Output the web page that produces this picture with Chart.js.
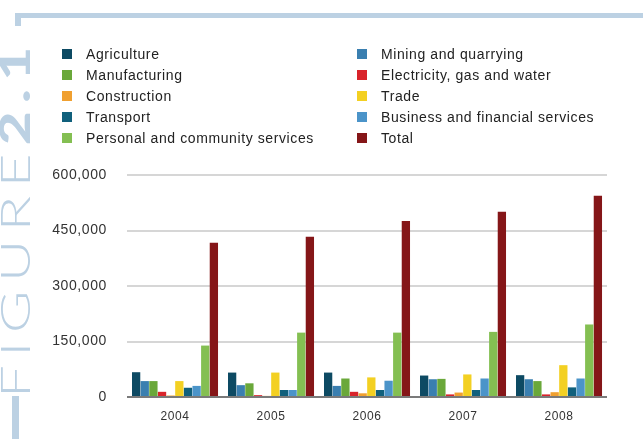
<!DOCTYPE html>
<html>
<head>
<meta charset="utf-8">
<script src="https://cdn.jsdelivr.net/npm/chart.js@4"></script>
<style>
  html, body { margin: 0; padding: 0; background: #fff; }
  #wrap { position: relative; width: 643px; height: 439px; overflow: hidden; font-family: "Liberation Sans", Arial, sans-serif; }
  #chart { position: absolute; left: 0; top: 0; }
  .line { position: absolute; background: #bcd1e3; }
  #fig { position: absolute; left: -7px; top: 398px; transform-origin: 0 0; white-space: nowrap;
         font-family: Lato, "Open Sans", sans-serif; font-weight: 300; font-size: 42px; line-height: 42px;
         color: #bcd1e3; letter-spacing: 6px; }
  #fig b { font-weight: 900; }
  .item { position: absolute; font-size: 14px; color: #222; line-height: 16px; letter-spacing: 0.6px; }
  .item i { position: absolute; left: 0; top: 3px; width: 10px; height: 10px; }
  .item span { position: absolute; left: 24px; top: 0; white-space: nowrap; }
</style>
</head>
<body>
<div id="wrap">
  <canvas id="chart" width="643" height="439"></canvas>
  <div class="line" style="left:15px;top:13px;width:628px;height:5px"></div>
  <div class="line" style="left:15px;top:13px;width:6px;height:13px"></div>
  <div class="line" style="left:12px;top:396px;width:7px;height:43px"></div>
  <div id="fig">FIGURE<b>2.1</b></div>
  <div id="legend"></div>
</div>
<script>
const years = ["2004", "2005", "2006", "2007", "2008"];
const sectors = [
  "Agriculture", "Mining and quarrying", "Manufacturing", "Electricity, gas and water",
  "Construction", "Trade", "Transport", "Business and financial services",
  "Personal and community services", "Total"
];
const colors = [
  "#0d4a63", "#3a7fb0", "#6aa83a", "#d9232a", "#f0a030",
  "#f3d022", "#10607c", "#4b94c9", "#84bf52", "#851618"
];
const agriculture = [67000, 66000, 66000, 58000, 59000];
const mining = [43000, 32000, 30000, 48000, 48000];
const manufacturing = [43000, 37000, 50000, 49000, 43000];
const electricity = [14000, 5000, 14000, 7000, 7000];
const construction = [4000, 3000, 10000, 12000, 13000];
const trade = [43000, 66000, 53000, 61000, 86000];
const transport = [25000, 19000, 19000, 19000, 26000];
const business = [30000, 19000, 44000, 50000, 50000];
const personal = [139000, 174000, 174000, 176000, 196000];
const total = [417000, 433000, 476000, 501000, 544000];
const series = [agriculture, mining, manufacturing, electricity, construction,
  trade, transport, business, personal, total];
const yTicks = [0, 150000, 300000, 450000, 600000];

// stretch the side title to the frame length
const fig = document.getElementById("fig");
fig.style.transform = "rotate(-90deg) scaleX(" + (360 / fig.offsetWidth) + ")";

// two-column legend, same order as the bars
const legend = document.getElementById("legend");
sectors.forEach((name, i) => {
  const d = document.createElement("div");
  d.className = "item";
  d.style.left = (i % 2 === 0 ? 62 : 357) + "px";
  d.style.top = (46 + Math.floor(i / 2) * 21) + "px";
  d.innerHTML = '<i style="background:' + colors[i] + '"></i><span>' + name + "</span>";
  legend.appendChild(d);
});

const spacing = {
  id: "spacing",
  beforeDraw: (chart) => { chart.ctx.letterSpacing = "0.6px"; },
};

let myChart = new Chart(document.getElementById("chart"), {
  type: "bar",
  plugins: [spacing],
  data: {
    labels: years,
    datasets: sectors.map((name, i) => ({
      label: name,
      data: series[i],
      backgroundColor: colors[i],
      borderWidth: 0,
      barPercentage: 0.96,
      categoryPercentage: 0.9,
    })),
  },
  options: {
    responsive: false,
    animation: false,
    layout: { padding: { top: 175, right: 36, left: 0, bottom: 0 } },
    plugins: { legend: { display: false }, tooltip: { enabled: false } },
    scales: {
      x: {
        grid: { display: false, drawTicks: false },
        border: { display: false },
        ticks: { padding: 12, color: "#333", font: { family: "Liberation Sans", size: 12 } },
        afterFit: (scale) => { scale.height = 42; },
      },
      y: {
        min: 0,
        max: 600000,
        afterBuildTicks: (scale) => { scale.ticks = yTicks.map((v) => ({ value: v })); },
        grid: {
          drawTicks: false,
          color: (ctx) => (ctx.tick && ctx.tick.value === 0 ? "#7a7a7a" : "#d6d6d6"),
          lineWidth: 2,
        },
        border: { display: false },
        ticks: {
          padding: 20,
          color: "#333",
          font: { family: "Liberation Sans", size: 14 },
          callback: (v) => v.toLocaleString("en-US"),
        },
        afterFit: (scale) => { scale.width = 127; },
      },
    },
  },
});
</script>
</body>
</html>
